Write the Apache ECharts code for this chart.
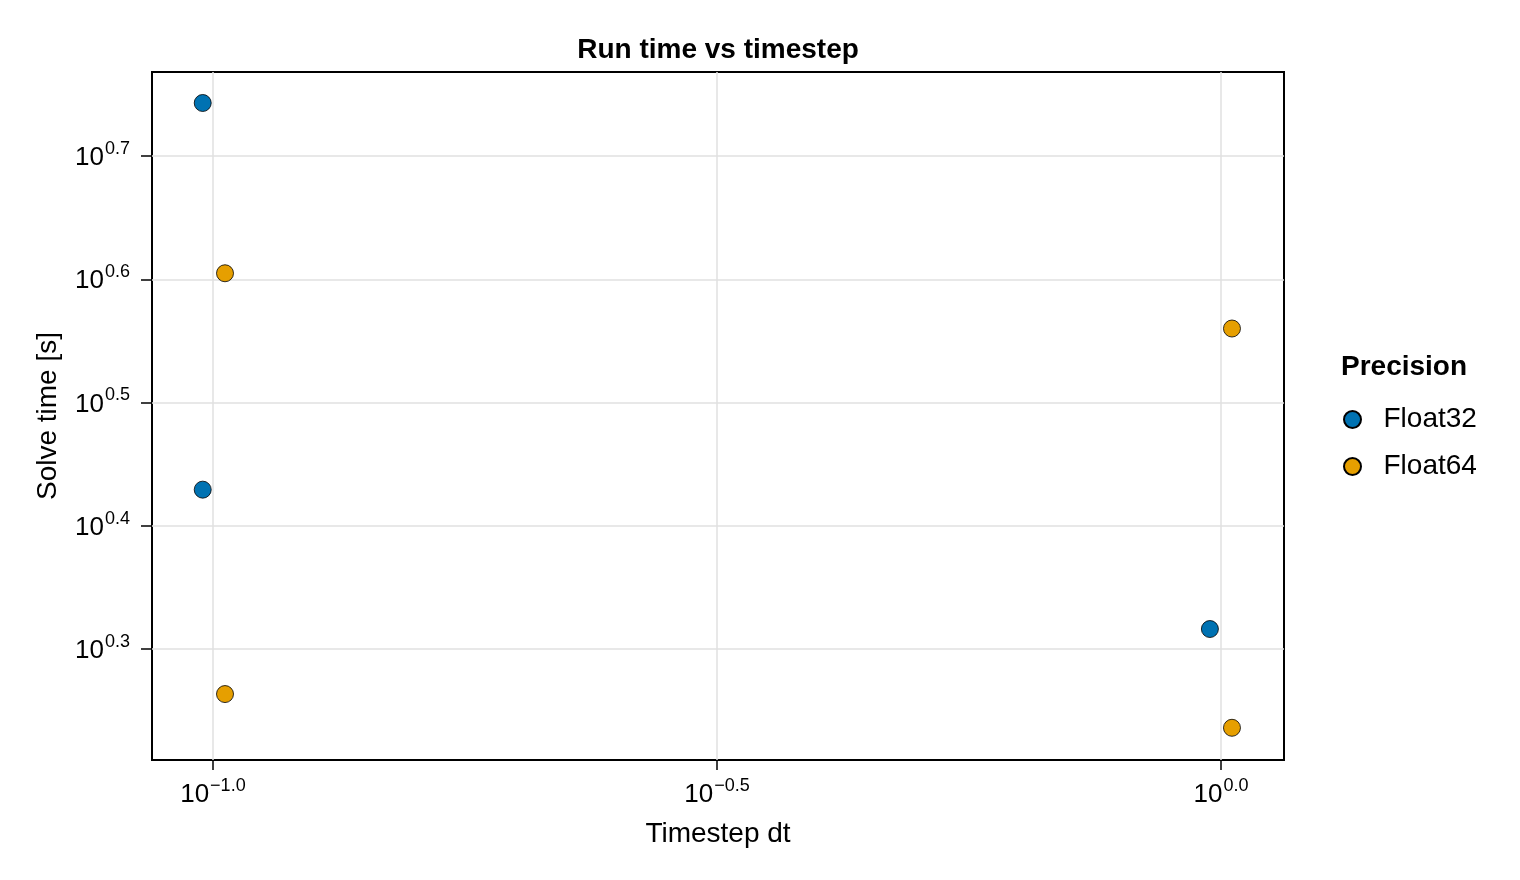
<!DOCTYPE html>
<html>
<head>
<meta charset="utf-8">
<script src="https://cdn.jsdelivr.net/npm/echarts@6/dist/echarts.min.js"></script>
<style>html,body{margin:0;padding:0;background:#fff;}#c{width:1520px;height:880px;}</style>
</head>
<body>
<div id="c"></div>
<script>
// Data (values as plotted, including the small horizontal dodge)
const float32Dt   = [0.0977, 0.0977, 0.975];
const float32Time = [5.534, 2.687, 2.071];
const float64Dt   = [0.1028, 0.1028, 1.0254, 1.0254];
const float64Time = [4.026, 1.834, 3.631, 1.722];
// Tick labels as exponents of 10
const xTickExponents = [-1.0, -0.5, 0.0];
const yTickExponents = [0.3, 0.4, 0.5, 0.6, 0.7];
const seriesNames = ['Float32', 'Float64'];

const FONT = '"Liberation Sans", Arial, sans-serif';
const xTickValues = xTickExponents.map(e => Math.pow(10, e));
const yTickValues = yTickExponents.map(e => Math.pow(10, e));

function expLabel(v) {
  const e = Math.log10(v);
  let s = (Math.round(e * 10) / 10).toFixed(1);
  if (s === '-0.0') s = '0.0';
  s = s.replace('-', '\u2212');
  return '{b|10}{s|' + s + '}';
}
const richLbl = {
  b: { fontSize: 26, fontFamily: FONT, color: '#000', verticalAlign: 'bottom', lineHeight: 30 },
  s: { fontSize: 18, fontFamily: FONT, color: '#000', verticalAlign: 'bottom', lineHeight: 30, padding: [0, 0, 13, 1] }
};

const chart = echarts.init(document.getElementById('c'));
chart.setOption({
  backgroundColor: '#fff',
  animation: false,
  title: [
    { text: 'Run time vs timestep', left: 718, top: 36, textAlign: 'center', padding: 0,
      textStyle: { fontFamily: FONT, fontWeight: 'bold', fontSize: 28, color: '#000' } },
    { text: 'Precision', left: 1341, top: 353, padding: 0,
      textStyle: { fontFamily: FONT, fontWeight: 'bold', fontSize: 28, color: '#000' } }
  ],
  legend: {
    orient: 'vertical', left: 1343, top: 404, padding: 0,
    icon: 'circle', itemWidth: 52, itemHeight: 17, itemGap: 16,
    textStyle: { fontFamily: FONT, fontSize: 28, color: '#000', lineHeight: 31 },
    data: seriesNames
  },
  grid: { left: 152, right: 236, top: 72, bottom: 120, show: true, borderColor: '#000', borderWidth: 2, backgroundColor: 'transparent' },
  xAxis: {
    type: 'log', logBase: 10, min: 0.08701, max: 1.1548,
    name: 'Timestep dt', nameLocation: 'middle', nameGap: 60,
    nameTextStyle: { fontFamily: FONT, fontSize: 28, color: '#000' },
    axisLine: { show: false },
    axisTick: { show: true, inside: false, length: 10, lineStyle: { color: '#000', width: 1.5 }, customValues: xTickValues },
    axisLabel: { customValues: xTickValues, formatter: expLabel, rich: richLbl, margin: 18, color: '#000' },
    splitLine: { show: true, lineStyle: { color: '#e0e0e0', width: 1.5 } },
    minorTick: { show: false }, minorSplitLine: { show: false }
  },
  yAxis: {
    type: 'log', logBase: 10, min: 1.6214, max: 5.864,
    name: 'Solve time [s]', nameLocation: 'middle', nameGap: 90, nameRotate: 90,
    nameTextStyle: { fontFamily: FONT, fontSize: 28, color: '#000' },
    axisLine: { show: false },
    axisTick: { show: true, inside: false, length: 11, lineStyle: { color: '#000', width: 1.5 }, customValues: yTickValues },
    axisLabel: { customValues: yTickValues, formatter: expLabel, rich: richLbl, margin: 22, color: '#000' },
    splitLine: { show: true, lineStyle: { color: '#e0e0e0', width: 1.5 } },
    minorTick: { show: false }, minorSplitLine: { show: false }
  },
  series: [
    { name: seriesNames[0], type: 'scatter', symbol: 'circle', symbolSize: 17,
      itemStyle: { color: '#0072B2', borderColor: '#000', borderWidth: 0.8, opacity: 1 },
      data: float32Dt.map((d, i) => [d, float32Time[i]]) },
    { name: seriesNames[1], type: 'scatter', symbol: 'circle', symbolSize: 17,
      itemStyle: { color: '#E69F00', borderColor: '#000', borderWidth: 0.8, opacity: 1 },
      data: float64Dt.map((d, i) => [d, float64Time[i]]) }
  ]
});
</script>
</body>
</html>
